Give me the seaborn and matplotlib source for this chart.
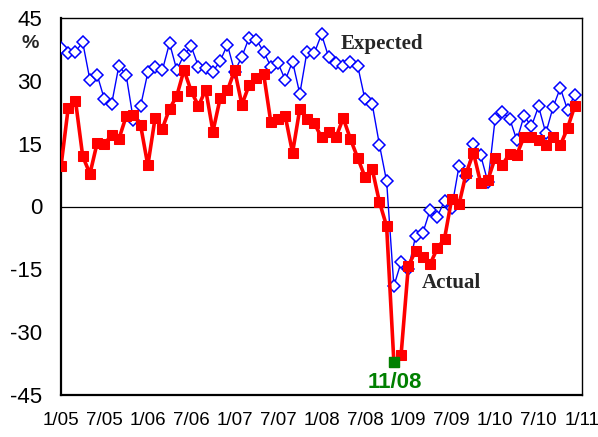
import matplotlib
matplotlib.use("Agg")
import matplotlib.pyplot as plt
import seaborn as sns
import pandas as pd
import numpy as np

# Monthly readings, Jan 2005 .. Dec 2010 (percent)
actual = [
    9.6, 23.6, 25.3, 12.0, 7.8, 15.2, 14.9, 17.1, 16.1, 21.5, 21.9, 19.4,
    9.8, 21.1, 18.6, 23.3, 26.4, 32.6, 27.5, 24.0, 27.9, 17.9, 25.9, 27.7,
    32.5, 24.3, 29.0, 30.6, 31.7, 20.1, 20.9, 21.5, 12.8, 23.3, 21.0, 19.9,
    16.5, 17.9, 16.5, 21.1, 16.1, 11.6, 7.1, 9.0, 1.1, -4.7, -37.1, -35.4,
    -14.2, -10.6, -12.0, -13.8, -10.0, -7.7, 1.9, 0.5, 8.0, 12.8, 5.6, 6.4,
    11.6, 10.0, 12.6, 12.4, 16.7, 16.6, 15.8, 14.6, 16.6, 14.6, 18.7, 24.0,
]
expected = [
    37.8, 36.6, 37.0, 39.2, 30.2, 31.4, 25.6, 24.5, 33.6, 31.4, 20.7, 24.0,
    32.0, 33.2, 32.5, 39.0, 32.6, 36.2, 38.2, 33.4, 33.0, 32.2, 34.8, 38.6,
    32.2, 35.8, 40.3, 39.8, 37.0, 33.4, 34.2, 30.2, 34.6, 26.9, 37.0, 36.6,
    41.1, 35.6, 34.2, 33.6, 34.4, 33.6, 25.6, 24.5, 14.8, 6.0, -19.0, -13.3,
    -15.0, -7.1, -6.3, -0.9, -2.4, 1.3, -0.3, 9.6, 7.4, 15.0, 12.2, 5.8,
    21.0, 22.5, 21.0, 15.8, 21.7, 19.1, 23.9, 17.5, 23.7, 28.3, 23.1, 26.7,
]
tick_labels = ["1/05", "7/05", "1/06", "7/06", "1/07", "7/07", "1/08",
               "7/08", "1/09", "7/09", "1/10", "7/10", "1/11"]
y_ticks = [45, 30, 15, 0, -15, -30, -45]
trough_label = "11/08"
trough_index = 46

months = np.arange(len(actual))
df = pd.DataFrame({"month": months, "actual": actual, "expected": expected})

sns.set_style("white")
plt.rcParams["font.family"] = ["Liberation Sans", "DejaVu Sans"]

fig = plt.figure(figsize=(5.98, 4.37), dpi=100)
ax = fig.add_axes([61 / 598, 1 - 395 / 437, 521 / 598, 377 / 437])

ax.axhline(0, color="black", lw=0.9, zorder=1)

sns.lineplot(data=df, x="month", y="expected", ax=ax, color="#0000FF",
             lw=1.0, marker="D", markersize=5.8, markerfacecolor="white",
             markeredgecolor="#0000FF", markeredgewidth=1.1, zorder=3)
sns.lineplot(data=df, x="month", y="actual", ax=ax, color="#FF0000",
             lw=2.6, marker="s", markersize=6.5, markerfacecolor="#FF0000",
             markeredgecolor="#FF0000", zorder=4)
ax.plot([months[trough_index]], [actual[trough_index]], marker="s",
        markersize=7.5, color="#008000", ls="none", zorder=5)

ax.set_xlim(0, 72)
ax.set_ylim(-45, 45)
ax.set_xticks(np.arange(0, 73, 6))
ax.set_xticklabels(tick_labels)
ax.set_xticks(np.arange(3, 73, 6), minor=True)
ax.set_yticks(y_ticks)
ax.set_yticklabels([str(v) for v in y_ticks])
ax.set_xlabel("")
ax.set_ylabel("")

ax.tick_params(axis="both", which="both", direction="inout", length=9,
               width=1.0, color="black", labelcolor="black")
ax.tick_params(axis="x", labelsize=13.5, pad=8)
ax.tick_params(axis="y", labelsize=16, pad=9)

for side in ["left", "bottom"]:
    ax.spines[side].set_linewidth(1.6)
    ax.spines[side].set_color("black")
for side in ["top", "right"]:
    ax.spines[side].set_visible(True)
    ax.spines[side].set_linewidth(1.0)
    ax.spines[side].set_color("black")

serif = ["Liberation Serif", "DejaVu Serif"]
ax.text(38.6, 38.8, "Expected", family=serif, weight="bold", fontsize=15,
        va="center", ha="left")
ax.text(49.8, -18.3, "Actual", family=serif, weight="bold", fontsize=15,
        va="center", ha="left")
ax.text(46.2, -42.0, trough_label, color="#008000", weight="bold",
        fontsize=16, ha="center", va="center")
ax.text(-0.059, 38.8, "%", transform=ax.get_yaxis_transform(), fontsize=14,
        weight="bold", ha="center", va="center")

fig.savefig("out.png", dpi=100)
